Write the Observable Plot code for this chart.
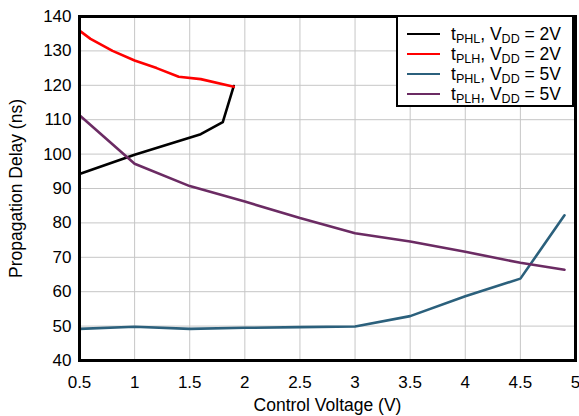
<!DOCTYPE html>
<html><head><meta charset="utf-8">
<script src="https://cdn.jsdelivr.net/npm/d3@7"></script>
<script src="https://cdn.jsdelivr.net/npm/@observablehq/plot@0.6"></script>
<style>
body{margin:0;background:#fff;font-family:"Liberation Sans",Arial,sans-serif;}
#wrap{position:relative;width:579px;height:416px;}
#legend{position:absolute;left:396px;top:15px;width:178px;height:92px;border:2px solid #000;background:#fff;font-size:17.5px;box-sizing:border-box;padding:7px 0 0 9px;line-height:20px;}
#legend .row{display:flex;align-items:center;white-space:nowrap;height:20px;}
#legend .sw{width:33px;height:2.6px;margin-right:11px;}
#legend sub{font-size:12.5px;vertical-align:-3px;line-height:0;}
</style></head>
<body><div id="wrap"><div id="chart"></div><div id="legend"></div></div>
<script>
const seriesNames = ["tPHL, VDD = 2V","tPLH, VDD = 2V","tPHL, VDD = 5V","tPLH, VDD = 5V"];
const seriesLabels = [["PHL","2V"],["PLH","2V"],["PHL","5V"],["PLH","5V"]];
const seriesColors = ["#000000","#ff0000","#2b607c","#6b2b63"];

const phl2x = [0.5, 1.0, 1.6, 1.8, 1.9];
const phl2y = [94.2, 99.8, 105.8, 109.3, 119.8];
const plh2x = [0.5, 0.6, 0.8, 1.0, 1.2, 1.4, 1.6, 1.9];
const plh2y = [135.9, 133.5, 130.0, 127.2, 125.0, 122.5, 121.8, 119.6];
const phl5x = [0.5, 1.0, 1.5, 2.0, 2.5, 3.0, 3.5, 4.0, 4.5, 4.9];
const phl5y = [49.2, 49.8, 49.2, 49.5, 49.7, 49.9, 52.9, 58.7, 63.8, 82.2];
const plh5x = [0.5, 1.0, 1.5, 2.0, 2.5, 3.0, 3.5, 4.0, 4.5, 4.9];
const plh5y = [111.3, 97.2, 90.7, 86.2, 81.4, 77.0, 74.6, 71.6, 68.4, 66.4];

const xTicks = [0.5,1,1.5,2,2.5,3,3.5,4,4.5,5];
const yTicks = [40,50,60,70,80,90,100,110,120,130,140];

const xs = [phl2x, plh2x, phl5x, plh5x];
const ys = [phl2y, plh2y, phl5y, plh5y];
const data = [];
xs.forEach((arr, i) => arr.forEach((x, j) => data.push({series: seriesNames[i], x, y: ys[i][j]})));

const chart = Plot.plot({
  width: 579, height: 416,
  marginLeft: 79, marginRight: 4, marginTop: 16, marginBottom: 56,
  style: {fontFamily: "'Liberation Sans', Arial, sans-serif", fontSize: "17px", color: "#000", background: "#fff"},
  x: {domain: [0.5, 5]},
  y: {domain: [40, 140]},
  color: {domain: seriesNames, range: seriesColors},
  marks: [
    Plot.gridX(xTicks, {stroke: "#c6c6c6", strokeOpacity: 1, strokeWidth: 1}),
    Plot.gridY(yTicks, {stroke: "#c6c6c6", strokeOpacity: 1, strokeWidth: 1}),
    Plot.line(data, {x: "x", y: "y", z: "series", stroke: "series", strokeWidth: 2.6}),
    Plot.frame({stroke: "#000", strokeWidth: 3}),
    Plot.axisX({ticks: xTicks, tickFormat: d => String(d), tickSize: 0, tickPadding: 15, fontSize: 17, label: "Control Voltage (V)", labelAnchor: "center", labelArrow: "none", labelOffset: 50}),
    Plot.axisY({ticks: yTicks, tickSize: 0, tickPadding: 8, fontSize: 17, label: "Propagation Delay (ns)", labelAnchor: "center", labelArrow: "none", labelOffset: 70})
  ]
});
chart.querySelectorAll("g[aria-label='x-axis label'] text, g[aria-label='y-axis label'] text").forEach(t => t.setAttribute("font-size", "17.5"));
document.getElementById("chart").appendChild(chart);

const legend = document.getElementById("legend");
seriesLabels.forEach((l, i) => {
  const row = document.createElement("div");
  row.className = "row";
  row.innerHTML = `<span class="sw" style="background:${seriesColors[i]}"></span><span>t<sub>${l[0]}</sub>, V<sub>DD</sub> = ${l[1]}</span>`;
  legend.appendChild(row);
});
</script></body></html>
